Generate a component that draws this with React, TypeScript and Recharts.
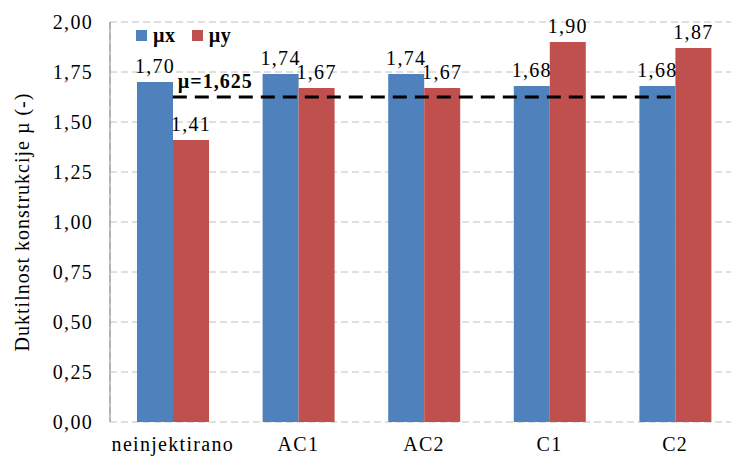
import { Bar, CartesianGrid, ComposedChart, LabelList, Legend, Line, XAxis, YAxis } from "recharts";

const categories = ["neinjektirano", "AC1", "AC2", "C1", "C2"];
const muX = [1.7, 1.74, 1.74, 1.68, 1.68];
const muY = [1.41, 1.67, 1.67, 1.9, 1.87];
const muMean = 1.625;
const yTicks = [0, 0.25, 0.5, 0.75, 1, 1.25, 1.5, 1.75, 2];
const boundaryTicks = [0, 1, 2, 3, 4, 5];

const data = categories.map((name, i) => ({ name, mux: muX[i], muy: muY[i], mean: muMean }));

const font = "'Liberation Serif', 'Times New Roman', serif";
const comma = (v: number) => Number(v).toFixed(2).replace(".", ",");
const txt = { fontFamily: font, fontSize: 20, fill: "#000", letterSpacing: 1.3 };

function LegendBox({ payload = [] }: any) {
  const items = payload.filter((p: any) => p.dataKey !== "mean");
  return (
    <div style={{ display: "flex", fontFamily: font, fontWeight: "bold", fontSize: 20, whiteSpace: "nowrap", letterSpacing: 0.6 }}>
      {items.map((p: any) => (
        <span key={p.dataKey} style={{ display: "flex", alignItems: "center", marginRight: 16 }}>
          <span style={{ width: 11, height: 11, background: p.color, marginRight: 6 }} />
          {p.value}
        </span>
      ))}
    </div>
  );
}

function MeanLabel(props: any) {
  if (props.index !== 0) return <g />;
  return (
    <text x={props.x + 5} y={props.y - 9} fontFamily={font} fontWeight="bold" fontSize={20} letterSpacing={1} fill="#000">
      µ={String(muMean).replace(".", ",")}
    </text>
  );
}

function AxisTitle({ viewBox }: any) {
  const x = viewBox.x + 22;
  const y = viewBox.y + viewBox.height / 2;
  return (
    <text x={x} y={y} transform={`rotate(-90 ${x} ${y})`} textAnchor="middle" dominantBaseline="central" fontFamily={font} fontSize={20} letterSpacing={1} fill="#000">
      Duktilnost konstrukcije µ (-)
    </text>
  );
}

export default function App() {
  return (
    <div style={{ position: "absolute", left: 0, top: 0, width: 731, height: 456, overflow: "hidden", background: "#fff" }}>
      <ComposedChart width={740} height={456} data={data} barGap={0} barCategoryGap={27} margin={{ top: 22, right: 2, bottom: 0, left: 0 }}>
        <CartesianGrid xAxisId={0} stroke="#c0c0c0" strokeDasharray="7 4" />
        <XAxis xAxisId={0} type="number" domain={[0, 5]} ticks={boundaryTicks} allowDataOverflow height={0} tick={false} tickSize={6} tickLine={{ stroke: "#222" }} axisLine={{ stroke: "#222" }} />
        <XAxis xAxisId={1} dataKey="name" height={34} axisLine={false} tickLine={false} tickSize={0} tickMargin={15} tick={txt} />
        <YAxis
          domain={[0, 2]}
          ticks={yTicks}
          width={110}
          tickFormatter={comma}
          axisLine={{ stroke: "#868686" }}
          tickLine={false}
          tickSize={0}
          tickMargin={17}
          tick={txt}
          label={{ content: AxisTitle }}
        />
        <Legend verticalAlign="top" content={LegendBox} wrapperStyle={{ left: 136, top: 24, width: 0, height: 0 }} />
        <Bar xAxisId={1} dataKey="mux" name="µx" fill="#4f81bd" isAnimationActive={false}>
          <LabelList dataKey="mux" position="top" offset={9} formatter={comma} style={txt} />
        </Bar>
        <Bar xAxisId={1} dataKey="muy" name="µy" fill="#c0504d" isAnimationActive={false}>
          <LabelList dataKey="muy" position="top" offset={9} formatter={comma} style={txt} />
        </Bar>
        <Line xAxisId={1} dataKey="mean" name="µ" stroke="#000" strokeWidth={3} strokeDasharray="14 8" dot={false} isAnimationActive={false} label={MeanLabel} legendType="none" />
      </ComposedChart>
    </div>
  );
}
